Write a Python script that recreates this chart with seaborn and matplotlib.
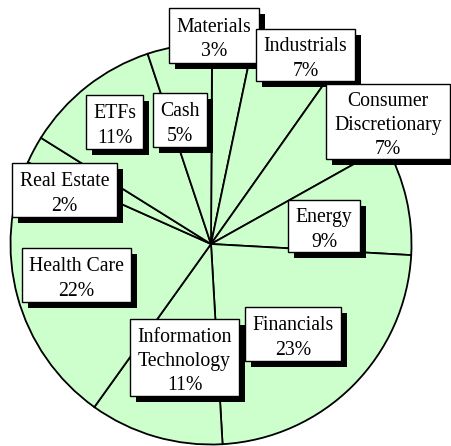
import matplotlib.pyplot as plt
from matplotlib.patches import Rectangle
import seaborn as sns

# Portfolio weights by sector, clockwise from the top
sectors = ["Materials", "Industrials", "Consumer\nDiscretionary", "Energy", "Financials",
           "Information\nTechnology", "Health Care", "Real Estate", "ETFs", "Cash"]
weights = [3.2, 6.5, 7.1, 9.0, 23.2, 10.8, 21.8, 2.2, 11.0, 5.2]
shown_pct = [3, 7, 7, 9, 23, 11, 22, 2, 11, 5]

# label boxes in pixels from the top-left corner: left, top, right, bottom
label_boxes = [(169, 8, 259, 63), (256, 29, 355, 81), (326, 84, 450, 159),
               (288, 200, 360, 252), (245, 307, 341, 361), (130, 319, 239, 396),
               (22, 248, 131, 302), (12, 163, 117, 217), (86, 95, 143, 149),
               (153, 93, 207, 147)]

sns.set_style("white")
plt.rcParams["font.family"] = ["Liberation Serif", "DejaVu Serif"]

W, H = 452, 446
cx, cy, R = 211, 244, 200.5  # pie centre and radius in pixels

fig = plt.figure(figsize=(W / 100, H / 100), dpi=100)
ax = fig.add_axes([0, 0, 1, 1])
ax.pie(weights, radius=1, startangle=89.7, counterclock=False,
       colors=["#ccffcc"] * len(weights),
       wedgeprops=dict(edgecolor="black", linewidth=1.3))
ax.set_xlim(-cx / R, (W - cx) / R)
ax.set_ylim(-(H - cy) / R, cy / R)
ax.set_aspect("equal")
ax.axis("off")


def to_data(x, y):
    return (x - cx) / R, (cy - y) / R


for i, (name, pct, (l, t, r, b)) in enumerate(zip(sectors, shown_pct, label_boxes)):
    z = 3 + 3 * i
    x0, y0 = to_data(l, b)
    w, h = (r - l) / R, (b - t) / R
    ax.add_patch(Rectangle((x0 + 6 / R, y0 - 6 / R), w, h, facecolor="black",
                           edgecolor="none", zorder=z))
    ax.add_patch(Rectangle((x0, y0), w, h, facecolor="white", edgecolor="black",
                           linewidth=1, zorder=z + 1))
    # text sits a few pixels below the box centre, like the original
    ax.text(x0 + w / 2, y0 + h / 2 - 4 / R, f"{name}\n{pct}%", ha="center", va="center",
            fontsize=14.2, linespacing=1.38, color="black", zorder=z + 2)

fig.savefig("out.png", dpi=100)
